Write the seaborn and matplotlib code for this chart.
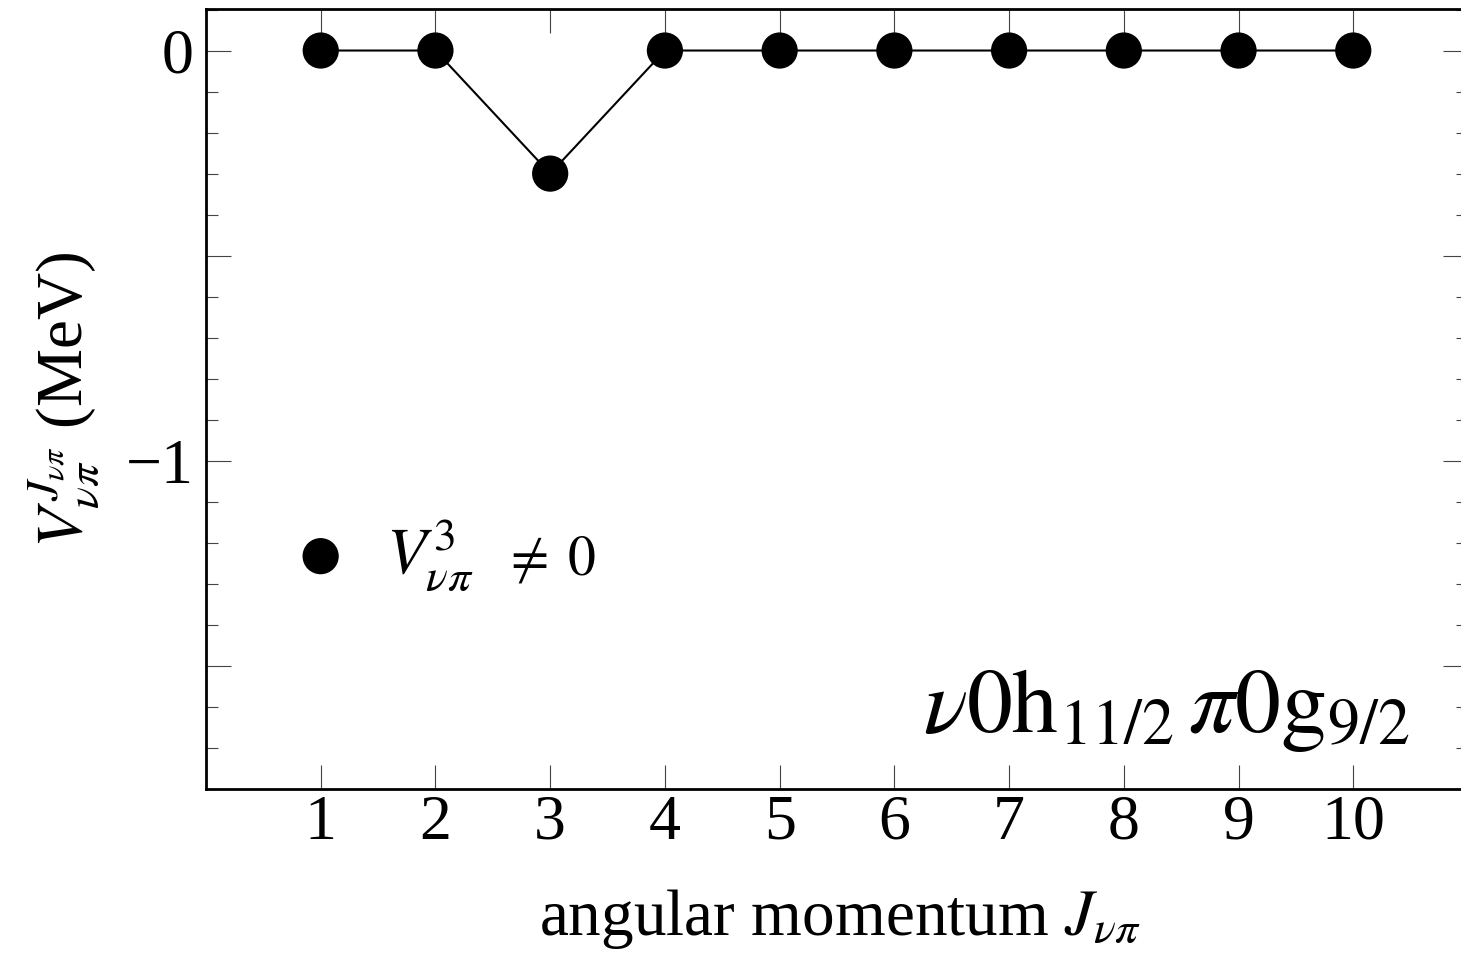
import numpy as np
import matplotlib
matplotlib.use("Agg")
import matplotlib.pyplot as plt
from matplotlib.ticker import MultipleLocator, FixedLocator
import seaborn as sns

# datos: momento angular y elemento de matriz (MeV)
J_vals = [1, 2, 3, 4, 5, 6, 7, 8, 9, 10]
V_vals = [0.0, 0.0, -0.3, 0.0, 0.0, 0.0, 0.0, 0.0, 0.0, 0.0]
y_major = [0, -0.5, -1, -1.5]
y_major_labels = ["0", "", "\u22121", ""]

sns.set_theme(style="ticks")
plt.rcParams["font.family"] = ["Liberation Serif", "DejaVu Serif"]
plt.rcParams["mathtext.fontset"] = "stix"
plt.rcParams["text.color"] = "black"
plt.rcParams["axes.labelcolor"] = "black"

W, H = 1461, 955
fig = plt.figure(figsize=(W / 100, H / 100), dpi=100)
# el eje se sale un poco por la derecha, como en la figura original
ax = fig.add_axes([206 / W, 1 - 789 / H, 1262 / W, (789 - 9.5) / H])

sns.lineplot(x=J_vals, y=V_vals, color="black", lw=1.5, ax=ax, legend=False)
sns.scatterplot(x=J_vals, y=V_vals, s=680, color="black", edgecolor="none",
                ax=ax, label=r"$V^{3}_{\nu\pi}$", zorder=3)

ax.set_xlim(0, 11)
ax.set_ylim(-1.8, 0.1)

ax.set_xticks(J_vals)
ax.set_xticklabels([str(j) for j in J_vals])
ax.yaxis.set_major_locator(FixedLocator(y_major))
ax.set_yticklabels(y_major_labels)
ax.yaxis.set_minor_locator(MultipleLocator(0.1))

for s in ax.spines.values():
    s.set_linewidth(2.0)
    s.set_color("black")
    s.set_visible(True)

ax.tick_params(axis="x", which="major", direction="in", top=True, bottom=True,
               length=17, width=0.8, color="#444444", labelcolor="black",
               labelsize=46, pad=4)
ax.tick_params(axis="y", which="major", direction="in", left=True, right=True,
               length=18, width=0.8, color="#444444", labelcolor="black",
               labelsize=46, pad=9)
ax.tick_params(axis="y", which="minor", direction="in", left=True, right=True,
               length=8.6, width=0.8, color="#444444")
ax.set_xlabel("")
ax.set_ylabel("")

leg = ax.legend(loc="center left", bbox_to_anchor=(288 / W, 1 - 555 / H),
                bbox_transform=fig.transFigure, frameon=False, fontsize=47,
                handlelength=1.0, handletextpad=0.5, borderpad=0,
                borderaxespad=0, markerscale=1.0)
for t in leg.get_texts():
    t.set_color("black")
fig.text(502 / W, 1 - 575 / H, r"$\neq\;0$", fontsize=40, va="baseline", ha="left")

fig.text(840 / W, 1 - 935 / H, r"angular momentum $J_{\nu\pi}$",
         fontsize=47, ha="center", va="baseline")
fig.text(64 / W, 1 - 400 / H, r"$V^{J_{\nu\pi}}_{\nu\pi}$ (MeV)",
         fontsize=47, rotation=90, ha="center", va="center")
fig.text(1410 / W, 1 - 732 / H, r"$\nu\mathrm{0h}_{11/2}\,\pi\mathrm{0g}_{9/2}$",
         fontsize=66, ha="right", va="baseline")

fig.savefig("out.png", dpi=100)
